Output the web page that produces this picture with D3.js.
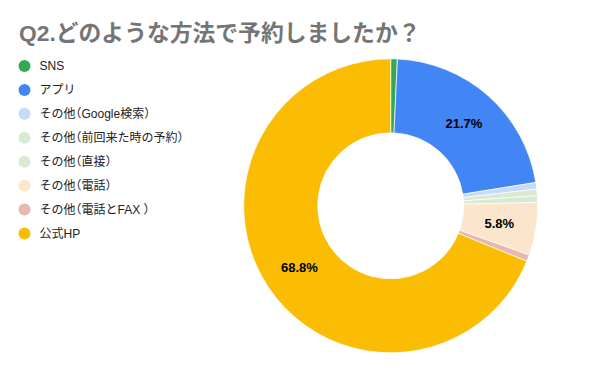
<!DOCTYPE html>
<html>
<head>
<meta charset="utf-8">
<script src="https://cdn.jsdelivr.net/npm/d3@7"></script>
<style>
body { margin: 0; background: #fff; }
text { font-family: Arial, "Liberation Sans", "Noto Sans CJK JP", sans-serif; }
.legend text { font-feature-settings: "halt"; }
</style>
</head>
<body>
<script>
var width = 600,
    height = 371;

var labels = ["SNS", "アプリ", "その他（Google検索）", "その他（前回来た時の予約）", "その他（直接）", "その他（電話）", "その他（電話とFAX ）", "公式HP"];
var counts = [1, 30, 1, 1, 1, 8, 1, 95];
var colors = ["#34a853", "#4285f4", "#c6dafc", "#d9ead3", "#d9ead3", "#fce5cd", "#e6b8af", "#fbbc04"];

var data = labels.map(function(d, i) { return {label: d, value: counts[i], color: colors[i]}; });
var total = d3.sum(counts);

var svg = d3.select("body").append("svg")
    .attr("width", width)
    .attr("height", height);

svg.append("text")
    .attr("x", 19)
    .attr("y", 41)
    .attr("fill", "#757575")
    .attr("font-size", 22.8)
    .attr("font-weight", "bold")
    .text("Q2.どのような方法で予約しましたか？");

// legend
var legend = svg.append("g")
    .attr("class", "legend")
    .attr("transform", "translate(24.5,66)");
var rowY = d3.scalePoint().domain(labels).range([0, 167.5]);

var row = legend.selectAll("g")
    .data(data)
    .enter().append("g")
    .attr("transform", function(d) { return "translate(0," + rowY(d.label) + ")"; });

row.append("circle")
    .attr("r", 6)
    .attr("fill", function(d) { return d.color; });

row.append("text")
    .attr("x", 15)
    .attr("dy", "0.36em")
    .attr("font-size", 12)
    .attr("fill", "#222")
    .text(function(d) { return d.label; });

// donut
var pie = d3.pie()
    .sort(null)
    .value(function(d) { return d.value; });

var arc = d3.arc()
    .innerRadius(73)
    .outerRadius(147);

var g = svg.append("g").attr("transform", "translate(390.7,205.8)");

var slices = g.selectAll("g")
    .data(pie(data))
    .enter().append("g");

slices.append("path")
    .attr("d", arc)
    .attr("fill", function(d) { return d.data.color; })
    .attr("stroke", "#fff")
    .attr("stroke-width", 0.7);

slices.filter(function(d) { return d.data.value / total > 0.05; })
    .append("text")
    .attr("transform", function(d) { return "translate(" + arc.centroid(d) + ")"; })
    .attr("text-anchor", "middle")
    .attr("dy", "0.36em")
    .attr("font-size", 13)
    .attr("font-weight", "bold")
    .attr("fill", "#000")
    .text(function(d) { return (d.data.value / total * 100).toFixed(1) + "%"; });
</script>
</body>
</html>
